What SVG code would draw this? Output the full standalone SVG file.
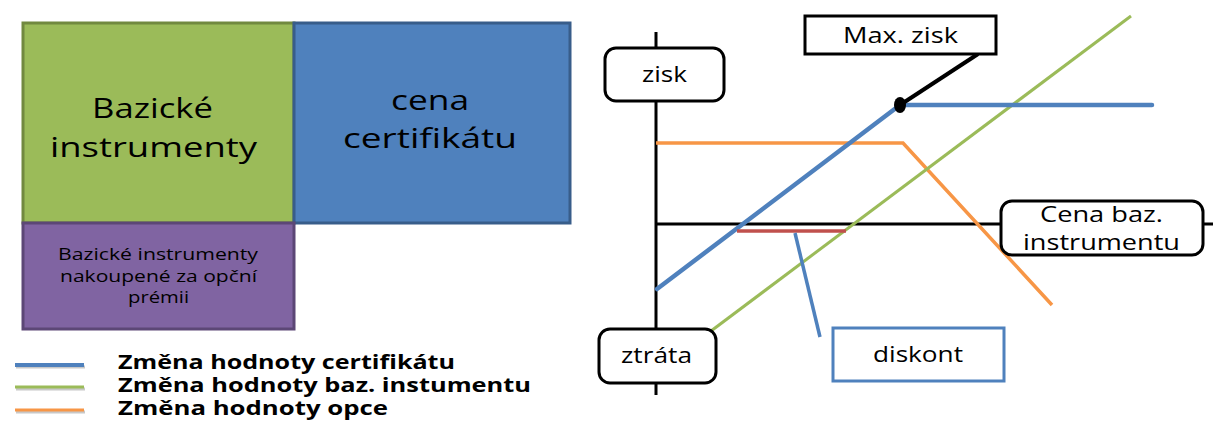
<svg xmlns="http://www.w3.org/2000/svg" width="1218" height="421" viewBox="0 0 1218 421">
  <style>
    text { font-family: "Open Sans", "Noto Sans", "DejaVu Sans", sans-serif; fill: #000; }
    .big { font-size: 27px; }
    .small { font-size: 17px; }
    .lbl { font-size: 21px; }
    .leg { font-size: 19px; font-weight: bold; }
    .box { fill: #fff; stroke: #000; stroke-width: 3; }
    .axis { stroke: #000; stroke-width: 3; fill: none; }
    .cert { stroke: #4F81BD; stroke-width: 4.5; fill: none; stroke-linecap: round; }
    .baz { stroke: #9BBB59; stroke-width: 3; fill: none; }
    .opce { stroke: #F79646; stroke-width: 3.5; fill: none; }
    .shadow { stroke: #c8c8c8; stroke-width: 3; }
  </style>

  <!-- stacked blocks -->
  <g id="blok-bazicke">
    <rect x="23" y="23" width="271" height="200" fill="#9BBB59" stroke="#71893F" stroke-width="3"/>
    <text class="big" x="92" y="118" textLength="121" lengthAdjust="spacingAndGlyphs">Bazické</text>
    <text class="big" x="50" y="157" textLength="207" lengthAdjust="spacingAndGlyphs">instrumenty</text>
  </g>
  <g id="blok-cena">
    <rect x="294" y="23" width="276" height="200" fill="#4F81BD" stroke="#385D8A" stroke-width="3"/>
    <text class="big" x="391" y="110" textLength="78" lengthAdjust="spacingAndGlyphs">cena</text>
    <text class="big" x="343" y="148" textLength="174" lengthAdjust="spacingAndGlyphs">certifikátu</text>
  </g>
  <g id="blok-premie">
    <rect x="23" y="223" width="271" height="106" fill="#8064A2" stroke="#5C4776" stroke-width="3"/>
    <text class="small" x="58" y="260" textLength="200" lengthAdjust="spacingAndGlyphs">Bazické instrumenty</text>
    <text class="small" x="60" y="282" textLength="197" lengthAdjust="spacingAndGlyphs">nakoupené za opční</text>
    <text class="small" x="128" y="303" textLength="61" lengthAdjust="spacingAndGlyphs">prémii</text>
  </g>

  <!-- legend -->
  <g id="legenda">
    <line class="shadow" x1="16" y1="367" x2="85" y2="367"/>
    <line x1="15" y1="365" x2="84" y2="365" stroke="#4F81BD" stroke-width="4"/>
    <line class="shadow" x1="16" y1="389" x2="85" y2="389"/>
    <line x1="15" y1="387" x2="84" y2="387" stroke="#9BBB59" stroke-width="3"/>
    <line class="shadow" x1="16" y1="412" x2="85" y2="412"/>
    <line x1="15" y1="410" x2="84" y2="410" stroke="#F79646" stroke-width="3"/>
    <text class="leg" x="118" y="369" textLength="337" lengthAdjust="spacingAndGlyphs">Změna hodnoty certifikátu</text>
    <text class="leg" x="118" y="392" textLength="413" lengthAdjust="spacingAndGlyphs">Změna hodnoty baz. instumentu</text>
    <text class="leg" x="118" y="415" textLength="270" lengthAdjust="spacingAndGlyphs">Změna hodnoty opce</text>
  </g>

  <!-- chart axes and curves -->
  <g id="spojnice">
    <line class="axis" x1="656" y1="32" x2="656" y2="395"/>
    <line class="axis" x1="656" y1="224" x2="1213" y2="224"/>
    <polyline class="opce" points="656,143 903,143 1052,305"/>
    <line class="baz" x1="707" y1="334" x2="1131" y2="16"/>
    <polyline class="cert" points="657,289 900,105 1152,105"/>
    <line x1="737" y1="231" x2="846" y2="231" stroke="#C0504D" stroke-width="3.5"/>
    <line x1="795" y1="233" x2="820" y2="337" stroke="#4F81BD" stroke-width="3.5"/>
    <line x1="900" y1="105" x2="978" y2="54" stroke="#000" stroke-width="4"/>
    <ellipse cx="900" cy="105" rx="6" ry="8" fill="#000"/>
  </g>

  <g id="zisk">
    <rect class="box" x="605" y="48" width="119" height="53" rx="11"/>
    <text class="lbl" x="642" y="82" textLength="45" lengthAdjust="spacingAndGlyphs">zisk</text>
  </g>
  <g id="ztrata">
    <rect class="box" x="599" y="329" width="117" height="54" rx="11"/>
    <text class="lbl" x="621" y="363" textLength="71" lengthAdjust="spacingAndGlyphs">ztráta</text>
  </g>
  <g id="max-zisk">
    <rect class="box" x="805" y="16" width="191" height="38"/>
    <text class="lbl" x="843" y="43" textLength="115" lengthAdjust="spacingAndGlyphs">Max. zisk</text>
  </g>
  <g id="cena-baz">
    <rect class="box" x="1001" y="201" width="202" height="54" rx="11"/>
    <text class="lbl" x="1040" y="222" textLength="123" lengthAdjust="spacingAndGlyphs">Cena baz.</text>
    <text class="lbl" x="1023" y="250" textLength="157" lengthAdjust="spacingAndGlyphs">instrumentu</text>
  </g>
  <g id="diskont">
    <rect x="833" y="328" width="171" height="53" fill="#fff" stroke="#4F81BD" stroke-width="3"/>
    <text class="lbl" x="873" y="362" textLength="90" lengthAdjust="spacingAndGlyphs">diskont</text>
  </g>
</svg>
